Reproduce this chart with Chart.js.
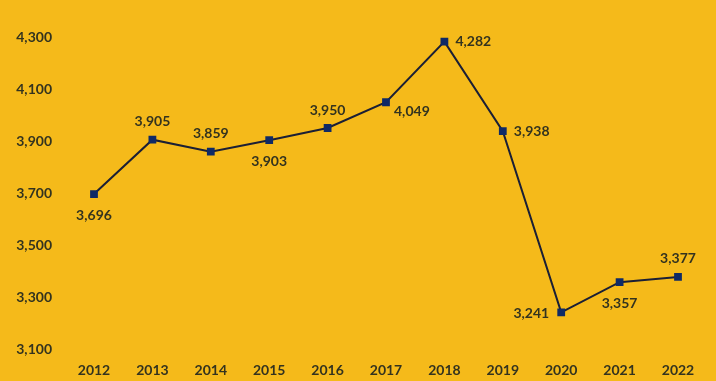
<!DOCTYPE html>
<html><head><meta charset="utf-8">
<script src="https://cdn.jsdelivr.net/npm/chart.js@4/dist/chart.umd.min.js"></script>
<style>html,body{margin:0;padding:0;background:#F5BA1A;}#wrap{width:716px;height:381px;}</style>
</head><body><div id="wrap"><canvas id="c" width="716" height="381"></canvas></div>
<script>
const years = ['2012','2013','2014','2015','2016','2017','2018','2019','2020','2021','2022'];
const values = [3696,3905,3859,3903,3950,4049,4282,3938,3241,3357,3377];
const labelPos = ['below','above','above','below','above','rightbelow','right','right','left','below','above'];

const fontFam = 'Lato, "Open Sans", sans-serif';
const textColor = '#33331f';

const dataLabels = {
  id:'dataLabels',
  afterDatasetsDraw(chart){
    const ctx = chart.ctx;
    const meta = chart.getDatasetMeta(0);
    ctx.save();
    ctx.font = 'bold 14px ' + fontFam;
    ctx.fillStyle = textColor;
    meta.data.forEach((pt,i)=>{
      const t = values[i].toLocaleString('en-US');
      let x = pt.x, y = pt.y;
      const p = labelPos[i];
      ctx.textBaseline = 'middle';
      if(p==='above'){ctx.textAlign='center'; y -= 18;}
      else if(p==='below'){ctx.textAlign='center'; y += 21;}
      else if(p==='right'){ctx.textAlign='left'; x += 11;}
      else if(p==='rightbelow'){ctx.textAlign='left'; x += 8; y += 9;}
      else {ctx.textAlign='right'; x -= 12; y += 1;}
      ctx.fillText(t,x,y);
    });
    ctx.restore();
  }
};

new Chart(document.getElementById('c'),{
  type:'line',
  data:{labels:years,datasets:[{
    data:values,
    borderColor:'#1b1f35',
    borderWidth:2,
    pointStyle:'rect',
    pointRadius:5.5,
    pointBorderWidth:0,
    pointBackgroundColor:'#0f2a66',
    tension:0
  }]},
  options:{
    responsive:false,
    animation:false,
    plugins:{legend:{display:false},tooltip:{enabled:false}},
    layout:{padding:{top:37,right:38,left:0,bottom:0}},
    scales:{
      x:{
        offset:false,
        grid:{display:false,drawTicks:false},
        border:{display:false},
        ticks:{color:textColor,font:{family:fontFam,size:14,weight:'bold'},padding:13,maxRotation:0},
        afterFit(s){s.height=32;}
      },
      y:{
        min:3100,max:4300,
        grid:{display:false,drawTicks:false},
        border:{display:false},
        ticks:{stepSize:200,color:textColor,font:{family:fontFam,size:14,weight:'bold'},padding:42,
          callback:v=>Number(v).toLocaleString('en-US')},
        afterFit(s){s.width=94;s.paddingTop=0;s.paddingBottom=0;}
      }
    }
  },
  plugins:[dataLabels]
});
</script></body></html>
